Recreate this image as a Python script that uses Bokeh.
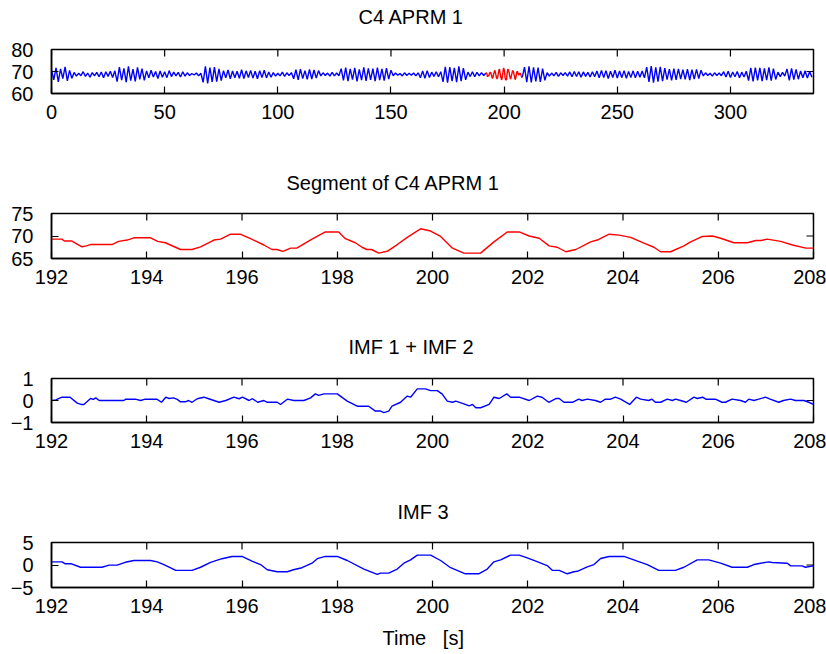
import numpy as np
from bokeh.plotting import figure
from bokeh.layouts import column
from bokeh.models import LinearAxis, FixedTicker, Range1d
from bokeh.embed import file_html
from bokeh.resources import INLINE

# ---------------- data ----------------
titles = ["C4 APRM 1", "Segment of C4 APRM 1", "IMF 1 + IMF 2", "IMF 3"]
x_label = "Time \u00a0 [s]"

top_xticks = [0, 50, 100, 150, 200, 250, 300]
seg_xticks = [192, 194, 196, 198, 200, 202, 204, 206, 208]
yticks_top = [60, 70, 80]
yticks_seg = [65, 70, 75]
yticks_imf12 = [-1, 0, 1]
yticks_imf3 = [-5, 0, 5]

# full recording, one turning point per second, 0 .. 192 s
top_a = [70.9, 66.2, 71.6, 65.3, 71.2, 66.8, 72.1, 65.7, 70.5, 66.9,
         69.6, 67.9, 69.2, 68.1, 69.9, 67.8, 69.3, 67.4, 69.5, 68.0, 69.6,
         67.6, 69.8, 67.2, 69.9, 67.8, 70.1, 67.3, 70.3,
         65.4, 72.0, 66.1, 71.4, 65.2, 72.3, 65.9, 71.1, 65.5, 71.9, 66.4, 71.3, 66.0,
         70.3, 67.1, 70.6, 67.5, 70.0, 66.8, 70.2, 67.4, 69.9, 67.2, 70.4,
         67.7, 69.7, 68.0, 69.6, 67.5, 69.9, 67.9, 69.4,
         68.2, 69.1, 68.4, 69.3, 68.1, 69.2,
         65.1, 72.3, 64.6, 71.8, 65.3, 72.0, 65.4, 71.2, 65.9,
         70.4, 67.1, 70.7, 66.7, 70.2, 67.2, 70.1, 66.9, 70.8, 66.8, 70.3,
         67.3, 70.5, 67.0, 70.1, 66.7, 70.4, 67.2, 70.6, 67.1, 69.8, 67.4,
         69.5, 67.9, 69.2, 68.0, 69.7, 67.8, 69.4, 68.2, 69.5,
         66.7, 70.8, 66.2, 71.1, 66.8, 70.4, 66.4, 71.0, 66.6, 70.7, 67.0, 70.4,
         68.0, 69.4, 68.2, 69.3, 67.9, 69.6, 68.0, 69.3, 68.1,
         71.3, 66.0, 71.8, 65.6, 71.2, 66.3, 71.6, 65.5, 71.0, 66.1, 71.9, 65.7,
         71.4, 66.2, 71.3, 65.6, 71.8, 66.1, 71.2, 65.8, 71.5, 66.5, 70.6,
         68.1, 69.3, 68.3, 69.1, 68.0, 69.4, 68.2, 69.2, 68.3, 69.3, 68.0, 69.4,
         67.2, 70.2, 66.9, 70.4, 67.3,
         69.7, 67.8, 69.9, 67.6, 69.9,
         65.3, 72.1, 64.9, 72.0, 65.6, 71.7, 65.2, 72.3, 65.6, 71.5, 66.2,
         69.7, 67.7, 69.9, 67.6, 69.6, 68.0, 69.5, 68.2, 69.3]
top_a_start = 0

# full recording, 208 .. 336 s
top_b = [67.3, 72.0, 65.2, 72.3, 65.0, 71.9, 65.5, 71.8, 65.3, 71.3, 66.0,
         69.5, 67.9, 69.3, 68.0, 69.6, 67.8, 69.4, 68.2, 69.5, 67.9,
         69.8, 67.6, 70.0, 67.7, 69.9, 67.4, 69.8, 67.8, 69.6, 67.5, 69.9, 67.6,
         70.2, 67.1, 70.5, 67.2, 70.4, 66.8, 70.1, 67.3, 70.6, 67.0, 70.2,
         67.2, 70.4, 66.9, 70.0, 67.3, 70.3, 67.1, 70.1, 67.4, 70.2, 67.1,
         72.0, 65.3, 72.4, 64.9, 71.9, 65.4, 72.1, 65.6, 71.5,
         66.3, 71.1, 66.0, 71.3, 66.2, 71.2, 66.6, 70.8, 66.4, 71.1, 66.1, 70.8,
         66.5, 71.0, 66.8, 70.6,
         68.0, 69.4, 68.2, 69.2, 67.9, 69.4, 68.2, 69.3, 68.1,
         69.9, 67.5, 70.1, 67.3, 69.8, 67.6, 70.0, 67.2, 69.7, 67.5, 70.1,
         65.9, 71.6, 65.5, 71.8, 66.0, 71.7, 65.6, 71.4, 66.1, 71.9, 65.8, 71.3, 66.4,
         69.7, 67.7, 69.6, 67.9,
         71.2, 66.0, 71.4, 66.3, 71.0, 66.5,
         70.2, 67.2, 70.3, 67.0, 70.0, 67.4]
top_b_start = 208

# segment 192 .. 208 s (red)
seg_t = [192.0, 192.22, 192.27, 192.42, 192.64, 192.73, 192.82, 193.27, 193.41, 193.59,
         193.73, 194.08, 194.23, 194.39, 194.71, 194.95, 195.13, 195.41, 195.55, 195.76,
         195.96, 196.18, 196.46, 196.63, 196.73, 196.86, 197.02, 197.15, 197.47, 197.75,
         198.03, 198.17, 198.38, 198.52, 198.62, 198.72, 198.87, 199.05, 199.26, 199.47,
         199.75, 199.96, 200.17, 200.42, 200.66, 201.01, 201.29, 201.57, 201.82, 202.03,
         202.24, 202.45, 202.62, 202.80, 203.01, 203.32, 203.46, 203.71, 203.92, 204.16,
         204.44, 204.65, 204.79, 205.00, 205.28, 205.42, 205.67, 205.88, 206.05, 206.33,
         206.61, 206.79, 206.90, 207.03, 207.31, 207.56, 207.84, 208.0]
seg_v = [69.3, 69.3, 68.9, 68.9, 67.6, 67.8, 68.1, 68.1, 68.8, 69.1,
         69.6, 69.6, 68.8, 68.5, 67.0, 67.0, 67.6, 69.1, 69.3, 70.4,
         70.4, 69.4, 68.0, 67.0, 67.0, 66.6, 67.3, 67.3, 69.3, 70.9,
         70.9, 69.4, 68.5, 67.5, 67.0, 67.0, 66.2, 66.6, 68.1, 69.7,
         71.6, 71.1, 69.9, 67.3, 66.2, 66.2, 68.7, 70.9, 70.9, 70.0,
         69.5, 67.8, 67.5, 66.5, 67.0, 68.7, 69.1, 70.4, 70.2, 69.7,
         68.4, 67.5, 66.5, 66.5, 67.8, 68.7, 69.9, 70.0, 69.5, 68.5,
         68.5, 69.0, 69.0, 69.3, 68.8, 68.0, 67.3, 67.3]

# IMF 1 + IMF 2 : (time, value)
imf12 = [(192.0, 0.0), (192.09, 0.03), (192.22, 0.15), (192.39, 0.15), (192.54, -0.12),
         (192.62, -0.18), (192.68, -0.18), (192.82, 0.09), (192.88, 0.05), (192.93, 0.12),
         (193.0, 0.0), (193.52, 0.0), (193.56, 0.06), (193.76, 0.06), (193.87, 0.0),
         (193.97, 0.06), (194.21, 0.06), (194.31, -0.08), (194.40, 0.15), (194.47, 0.09),
         (194.56, 0.12), (194.64, 0.05), (194.71, -0.06), (194.81, -0.06), (194.88, 0.0),
         (194.95, -0.08), (195.06, 0.08), (195.20, 0.15), (195.30, 0.08), (195.52, -0.08),
         (195.66, 0.0), (195.83, 0.15), (195.94, 0.08), (196.01, 0.15), (196.15, 0.0),
         (196.22, 0.08), (196.33, -0.08), (196.46, 0.0), (196.53, -0.08), (196.74, -0.08),
         (196.81, -0.18), (196.95, 0.06), (197.09, 0.0), (197.30, 0.0), (197.44, 0.12),
         (197.54, 0.3), (197.61, 0.23), (197.72, 0.3), (198.0, 0.3), (198.21, -0.03),
         (198.42, -0.26), (198.66, -0.26), (198.80, -0.48), (198.91, -0.48), (198.98, -0.55),
         (199.08, -0.48), (199.15, -0.26), (199.33, -0.08), (199.47, 0.2), (199.54, 0.15),
         (199.68, 0.53), (199.85, 0.53), (199.96, 0.45), (200.10, 0.45), (200.20, 0.3),
         (200.31, -0.03), (200.42, -0.08), (200.49, -0.03), (200.66, -0.15), (200.77, -0.24),
         (200.84, -0.18), (200.91, -0.33), (201.01, -0.33), (201.19, -0.18), (201.29, 0.15),
         (201.40, 0.09), (201.56, 0.3), (201.64, 0.15), (201.82, 0.15), (202.03, 0.0),
         (202.20, 0.2), (202.30, 0.15), (202.44, -0.08), (202.59, 0.09), (202.66, 0.09),
         (202.76, -0.08), (202.94, -0.08), (203.07, 0.06), (203.14, 0.0), (203.25, 0.06),
         (203.42, 0.0), (203.53, -0.08), (203.63, 0.06), (203.74, 0.06), (203.84, 0.15),
         (203.95, 0.06), (204.14, -0.18), (204.28, 0.15), (204.37, 0.06), (204.54, 0.0),
         (204.61, 0.06), (204.68, -0.08), (204.79, -0.08), (204.93, 0.06), (205.04, 0.0),
         (205.10, 0.06), (205.21, 0.0), (205.33, -0.08), (205.49, 0.15), (205.56, 0.09),
         (205.67, 0.15), (205.74, 0.06), (205.94, 0.06), (206.08, -0.08), (206.15, -0.08),
         (206.29, 0.06), (206.47, 0.0), (206.57, -0.08), (206.64, 0.06), (206.75, 0.0),
         (206.85, 0.06), (206.99, 0.15), (207.09, 0.06), (207.27, -0.08), (207.37, 0.0),
         (207.52, 0.06), (207.62, 0.0), (207.80, 0.0), (207.90, -0.08), (208.0, -0.18)]

# IMF 3 : (time, value)
imf3 = [(192.0, 0.7), (192.22, 0.7), (192.29, 0.27), (192.42, 0.27), (192.61, -0.5),
        (193.06, -0.5), (193.21, -0.03), (193.38, -0.03), (193.55, 0.6), (193.73, 1.0),
        (194.08, 1.0), (194.22, 0.7), (194.36, 0.1), (194.61, -1.2), (194.95, -1.2),
        (195.13, -0.5), (195.34, 0.6), (195.58, 1.4), (195.79, 1.9), (196.0, 1.9),
        (196.21, 0.85), (196.39, 0.1), (196.53, -1.05), (196.74, -1.5), (196.95, -1.5),
        (197.08, -1.05), (197.26, -0.6), (197.47, 0.4), (197.58, 1.4), (197.75, 1.9),
        (198.0, 1.9), (198.21, 1.0), (198.56, -0.9), (198.84, -2.1), (198.91, -1.8),
        (199.08, -1.8), (199.26, -0.9), (199.40, 0.4), (199.54, 1.15), (199.68, 2.2),
        (199.96, 2.2), (200.17, 1.0), (200.38, -0.6), (200.69, -1.95), (200.97, -1.95),
        (201.15, -0.9), (201.29, 0.7), (201.43, 1.15), (201.64, 2.2), (201.82, 2.2),
        (201.96, 1.7), (202.17, 0.85), (202.42, -0.2), (202.52, -1.2), (202.66, -1.2),
        (202.83, -1.95), (202.97, -1.5), (203.04, -1.4), (203.25, -0.4), (203.39, 0.1),
        (203.53, 1.45), (203.71, 1.9), (204.02, 1.9), (204.30, 0.85), (204.51, 0.1),
        (204.75, -1.2), (205.10, -1.2), (205.28, -0.5), (205.56, 1.15), (205.80, 1.15),
        (206.05, 0.4), (206.29, -0.5), (206.61, -0.5), (206.75, 0.1), (206.89, 0.4),
        (207.06, 0.7), (207.13, 0.55), (207.45, 0.4), (207.52, -0.2), (207.76, -0.2),
        (207.83, -0.5), (208.0, -0.2)]

# ---------------- styling / layout ----------------
FONT = "Liberation Sans"
FS = "20px"
BLUE = "#0000ff"
RED = "#ff0000"
W = 826
LEFT, RIGHT = 51, 13
title_left = [307, 235, 297, 346]   # start of each title, px from the box's left edge
xlabel_left = 331


def style_axis(ax, standoff):
    ax.axis_line_width = 1.5
    ax.axis_line_color = "black"
    ax.major_tick_in = 7
    ax.major_tick_out = 0
    ax.major_tick_line_width = 1.2
    ax.major_tick_line_color = "black"
    ax.minor_tick_line_color = None
    ax.major_label_text_font = FONT
    ax.major_label_text_color = "black"
    ax.major_label_text_font_size = FS
    ax.major_label_standoff = standoff


def text_strip(text, height, left_offset):
    """A frameless strip that only carries one line of text."""
    t = figure(width=W, height=height, output_backend="svg", toolbar_location=None,
               x_axis_location=None, y_axis_location=None,
               min_border_left=LEFT, min_border_right=RIGHT,
               min_border_top=2, min_border_bottom=0)
    t.grid.visible = False
    t.outline_line_color = None
    t.border_fill_color = "white"
    t.background_fill_color = "white"
    t.title.text = text
    t.title.align = "left"
    t.title.offset = left_offset
    t.title.standoff = 6
    t.title.text_font = FONT
    t.title.text_font_size = FS
    t.title.text_font_style = "normal"
    t.title.text_color = "black"
    return t


def panel(xr, yr, xticks, yticks, height, top, bottom):
    p = figure(width=W, height=height, x_range=Range1d(*xr), y_range=Range1d(*yr),
               output_backend="svg", toolbar_location=None,
               x_axis_location=None, y_axis_location=None,
               min_border_left=LEFT, min_border_right=RIGHT,
               min_border_top=top, min_border_bottom=bottom)
    p.grid.visible = False
    p.outline_line_color = "black"
    p.outline_line_width = 1.5
    p.background_fill_color = "white"
    p.border_fill_color = "white"

    xb = LinearAxis(ticker=FixedTicker(ticks=xticks, minor_ticks=[]))
    style_axis(xb, 11)
    p.add_layout(xb, "below")
    yl = LinearAxis(ticker=FixedTicker(ticks=yticks, minor_ticks=[]))
    style_axis(yl, 18)
    p.add_layout(yl, "left")

    # inward ticks on the top and right edges of the box
    p.ray(x=xticks, y=[yr[1]] * len(xticks), length=7, length_units="screen",
          angle=-np.pi / 2, line_color="black", line_width=1.2)
    p.ray(x=[xr[1]] * len(yticks), y=yticks, length=7, length_units="screen",
          angle=np.pi, line_color="black", line_width=1.2)
    return p


# panel 1: full record
t1 = text_strip(titles[0], 32, title_left[0])
p1 = panel((0, 336.7), (60, 80), top_xticks, yticks_top, 134, 17, 73)
p1.line(list(range(top_a_start, top_a_start + len(top_a))), top_a, line_color=BLUE, line_width=1.4)
p1.line(list(range(top_b_start, top_b_start + len(top_b))), top_b, line_color=BLUE, line_width=1.4)
p1.line(seg_t, seg_v, line_color=RED, line_width=1.4)

# panel 2: segment
t2 = text_strip(titles[1], 32, title_left[1])
p2 = panel((192, 208), (65, 75), seg_xticks, yticks_seg, 132, 15, 72)
p2.line(seg_t, seg_v, line_color=RED, line_width=1.4)

# panel 3: IMF1 + IMF2
t3 = text_strip(titles[2], 32, title_left[2])
p3 = panel((192, 208), (-1, 1), seg_xticks, yticks_imf12, 133, 16, 73)
p3.line([a for a, b in imf12], [b for a, b in imf12], line_color=BLUE, line_width=1.4)

# panel 4: IMF3
t4 = text_strip(titles[3], 32, title_left[3])
p4 = panel((192, 208), (-5, 5), seg_xticks, yticks_imf3, 94, 15, 34)
p4.line([a for a, b in imf3], [b for a, b in imf3], line_color=BLUE, line_width=1.4)

xl = text_strip(x_label, 33, xlabel_left)

layout = column(t1, p1, t2, p2, t3, p3, t4, p4, xl, spacing=0)
open("out.html", "w").write(file_html(layout, INLINE))
